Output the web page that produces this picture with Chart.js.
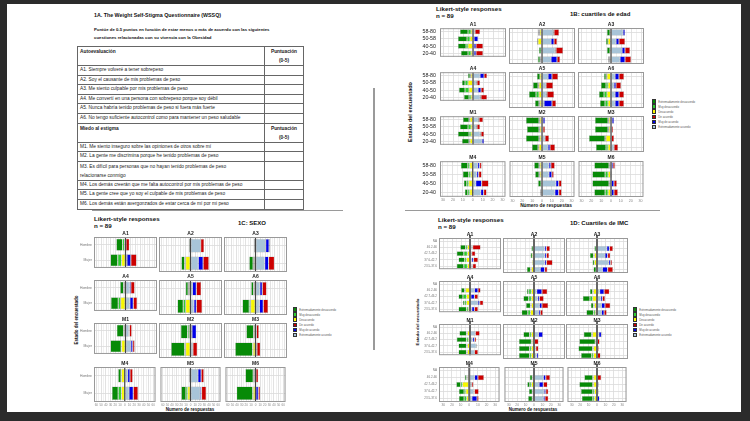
<!DOCTYPE html>
<html>
<head>
<meta charset="utf-8">
<script src="https://cdn.jsdelivr.net/npm/chart.js@4.4.1/dist/chart.umd.min.js"></script>
<style>
  body { margin: 0; width: 750px; height: 421px; overflow: hidden; position: relative;
         background: #2b2b2b; font-family: "Liberation Sans", Arial, sans-serif; }
  #sheet { position: absolute; left: 7px; top: 4px; width: 734px; height: 408px; background: #fff; }
  .t { position: absolute; white-space: nowrap; line-height: 1; color: #111; font-weight: bold; }
  .rot { transform: translate(-50%, -50%) rotate(-90deg); }
  .ctr { transform: translate(-50%, -50%); }
  .sep { position: absolute; background: #9a9a9a; }
  canvas { position: absolute; }
  table.wssq { position: absolute; left: 77px; top: 46px; width: 227px; border-collapse: collapse;
               font-size: 4.8px; color: #222; border: 1px solid #444; }
  table.wssq td { border: 0.8px solid #666; padding: 0 2px; vertical-align: top; white-space: nowrap;
                  line-height: 8.6px; height: 8.6px; }
  table.wssq td.h { line-height: 9px; height: 18px; }
  table.wssq td.p { width: 34px; text-align: center; }
  .lg { position: absolute; }
  .lg div { height: 5.1px; display: flex; align-items: center; font-size: 2.8px; color: #555; white-space: nowrap; }
  .lg i { display: inline-block; width: 4.3px; height: 4.6px; border: 0.5px solid #333; box-sizing: border-box; margin-right: 2px; }
</style>
</head>
<body>
<div id="sheet"></div>

<div class="t" style="left:94px;top:13px;font-size:5.3px">1A. The Weight Self-Stigma Questionnaire (WSSQ)</div>
<div class="t" style="left:94px;top:26px;font-size:4.3px;line-height:8px">Puntúe de 0-5 puntos en función de estar menos o más de acuerdo con las siguientes<br>cuestiones relacionadas con su vivencia con la Obesidad</div>

<table class="wssq">
  <tr><td class="h"><b>Autoevaluación</b><br>&nbsp;</td><td class="p h"><b>Puntuación</b><br><b>(0-5)</b></td></tr>
  <tr><td>A1. Siempre volveré a tener sobrepeso</td><td class="p"></td></tr>
  <tr><td>A2. Soy el causante de mis problemas de peso</td><td class="p"></td></tr>
  <tr><td>A3. Me siento culpable por mis problemas de peso</td><td class="p"></td></tr>
  <tr><td>A4. Me convertí en una persona con sobrepeso porque soy débil</td><td class="p"></td></tr>
  <tr><td>A5. Nunca habría tenido problemas de peso si fuera más fuerte</td><td class="p"></td></tr>
  <tr><td>A6. No tengo suficiente autocontrol como para mantener un peso saludable</td><td class="p"></td></tr>
  <tr><td class="h"><b>Miedo al estigma</b><br>&nbsp;</td><td class="p h"><b>Puntuación</b><br><b>(0-5)</b></td></tr>
  <tr><td>M1. Me siento inseguro sobre las opiniones de otros sobre mí</td><td class="p"></td></tr>
  <tr><td>M2. La gente me discrimina porque he tenido problemas de peso</td><td class="p"></td></tr>
  <tr><td class="h">M3. Es difícil para personas que no hayan tenido problemas de peso<br>relacionarse conmigo</td><td class="p h"></td></tr>
  <tr><td>M4. Los demás creerán que me falta autocontrol por mis problemas de peso</td><td class="p"></td></tr>
  <tr><td>M5. La gente cree que yo soy el culpable de mis problemas de peso</td><td class="p"></td></tr>
  <tr><td>M6. Los demás están avergonzados de estar cerca de mí por mi peso</td><td class="p"></td></tr>
</table>

<div class="sep" style="left:92px;top:210px;width:251px;height:1px"></div>
<div class="sep" style="left:405px;top:210px;width:255px;height:1px"></div>
<div class="sep" style="left:373px;top:88px;width:1.5px;height:262px"></div>

<!-- 1B -->
<div class="t" style="left:436px;top:5px;font-size:6.2px;line-height:7px">Likert-style responses<br>n = 89</div>
<div class="t" style="left:570px;top:10.5px;font-size:6px">1B: cuartiles de edad</div>
<div class="t rot" style="left:411px;top:112px;font-size:5.5px">Estado del encuestado</div>
<div class="t ctr" style="left:546px;top:206px;font-size:4.8px">Número de respuestas</div>

<!-- 1C -->
<div class="t" style="left:94px;top:215px;font-size:6.2px;line-height:7px">Likert-style responses<br>n = 89</div>
<div class="t" style="left:238px;top:220px;font-size:6px">1C: SEXO</div>
<div class="t rot" style="left:77px;top:320px;font-size:4.5px">Estado del encuestado</div>
<div class="t ctr" style="left:190px;top:410px;font-size:4.5px">Numero de respuestas</div>

<!-- 1D -->
<div class="t" style="left:438px;top:216px;font-size:6.2px;line-height:7px">Likert-style responses<br>n = 89</div>
<div class="t" style="left:570px;top:220px;font-size:6px">1D: Cuartiles de IMC</div>
<div class="t rot" style="left:418px;top:322px;font-size:4.3px">Estado del encuestado</div>
<div class="t ctr" style="left:533px;top:409.5px;font-size:4.5px">Numero de respuestas</div>

<script>
// Items (panels), in reading order
const items = ["A1", "A2", "A3", "A4", "A5", "A6", "M1", "M2", "M3", "M4", "M5", "M6"];

// Value order inside every row below
const rowCats   = ["Extremadamente desacuerdo", "Muy desacuerdo", "Desacuerdo",
                   "Extremadamente acuerdo", "Muy de acuerdo", "De acuerdo"];
const rowColors = ["#078a07", "#2fcc2f", "#f7f700", "#a8c4d8", "#0000ea", "#cc0000"];
// legend order (indexes into rowCats)
const legendOrder = [0, 1, 2, 5, 4, 3];

// ---- 1B: age quartiles ----
const edadGroups = ["58-80", "50-58", "40-50", "20-40"];
const edadA1 = [[8,3,2,2,0,5], [9,3,3,1,4,0], [8,2,5,1,2,7], [7,3,2,1,2,7]];
const edadA2 = [[1,1,2,11,1,5], [1,0,4,9,3,3], [2,0,1,13,1,7], [2,1,1,9,6,3]];
const edadA3 = [[3,0,1,12,2,0], [2,0,3,5,3,6], [3,1,0,11,3,5], [1,1,1,9,5,6]];
const edadA4 = [[2,1,2,7,4,3], [3,3,5,3,1,3], [6,4,4,5,3,3], [5,2,2,7,1,6]];
const edadA5 = [[3,0,2,6,4,6], [5,1,3,4,0,7], [7,3,3,4,1,7], [4,1,2,2,8,4]];
const edadA6 = [[2,1,4,4,4,5], [5,2,3,3,2,5], [5,3,4,4,4,5], [5,3,3,4,4,5]];
const edadM1 = [[6,1,3,5,1,4], [8,3,2,3,1,3], [11,2,2,7,1,3], [7,1,3,9,2,0]];
const edadM2 = [[13,1,2,1,2,0], [12,1,2,1,0,2], [13,1,2,3,0,4], [6,1,3,6,2,5]];
const edadM3 = [[13,1,2,1,2,0], [13,1,2,0,0,2], [16,1,5,0,0,3], [10,2,3,3,0,4]];
const edadM4 = [[7,2,3,5,2,2], [6,2,2,4,2,3], [3,2,4,3,6,7], [3,2,3,8,3,3]];
const edadM5 = [[5,1,2,7,2,4], [4,1,2,7,3,2], [3,1,0,14,3,3], [1,1,0,13,4,3]];
const edadM6 = [[15,1,1,0,2,2], [13,3,3,0,0,1], [17,1,1,0,3,3], [11,3,3,0,3,4]];

// ---- 1C: sex ----
const sexoGroups = ["Hombre", "Mujer"];
const sexoA1 = [[13,4,2,1,0,7], [15,8,8,3,8,12]];
const sexoA2 = [[3,0,0,21,0,7], [7,2,10,16,10,12]];
const sexoA3 = [[2,0,1,21,7,2], [8,2,3,19,8,12]];
const sexoA4 = [[7,1,3,8,3,8], [15,5,10,9,7,8]];
const sexoA5 = [[5,2,3,4,8,10], [12,5,10,7,5,12]];
const sexoA6 = [[5,1,3,9,5,9], [14,3,10,8,8,10]];
const sexoM1 = [[14,1,3,7,1,5], [22,1,8,11,4,4]];
const sexoM2 = [[14,3,3,3,9,0], [28,2,10,5,0,9]];
const sexoM3 = [[15,1,3,2,0,5], [36,1,5,3,0,7]];
const sexoM4 = [[6,1,7,6,5,6], [13,7,7,9,9,10]];
const sexoM5 = [[3,0,0,16,7,6], [10,4,6,21,3,10]];
const sexoM6 = [[17,2,3,0,1,5], [35,1,5,0,6,4]];

// ---- 1D: BMI quartiles (NA row has no answers) ----
const imcGroups = ["NA", "46.2-66", "42.7-46.2", "37.6-42.7", "23.5-37.6"];
const imcA1 = [[6,2,3,2,1,9], [8,4,3,1,1,4], [7,2,4,2,2,5], [8,4,3,2,1,4]];
const imcA2 = [[2,1,0,12,2,4], [2,0,2,12,2,3], [0,0,2,12,2,7], [4,1,3,7,5,3]];
const imcA3 = [[2,0,1,11,3,4], [4,1,3,9,3,3], [2,0,3,13,2,2], [3,0,1,6,6,6]];
const imcA4 = [[4,1,5,5,4,3], [5,4,4,1,4,4], [2,2,4,9,2,4], [9,2,2,2,3,4]];
const imcA5 = [[2,3,3,3,6,6], [6,3,3,4,2,5], [5,1,3,6,3,7], [7,3,4,5,2,3]];
const imcA6 = [[3,1,4,3,5,6], [8,3,5,4,2,3], [3,1,3,5,4,6], [8,2,2,5,3,3]];
const imcM1 = [[8,1,3,6,0,5], [11,2,2,3,2,2], [9,1,3,7,1,0], [9,1,3,5,0,4]];
const imcM2 = [[7,2,3,5,5,0], [14,1,2,0,0,5], [12,2,3,2,0,3], [12,2,3,3,2,0]];
const imcM3 = [[9,1,5,2,3,1], [18,1,1,0,0,3], [16,1,4,0,0,2], [12,2,4,0,0,4]];
const imcM4 = [[2,1,2,6,4,7], [5,2,8,2,1,2], [6,2,4,5,1,5], [6,3,3,3,6,2]];
const imcM5 = [[3,1,1,11,3,5], [3,2,3,6,5,5], [4,1,1,12,2,3], [5,1,1,11,2,4]];
const imcM6 = [[10,1,4,0,0,5], [16,1,4,0,2,0], [14,2,3,0,1,1], [13,2,3,0,3,0]];

const edadData = [edadA1, edadA2, edadA3, edadA4, edadA5, edadA6, edadM1, edadM2, edadM3, edadM4, edadM5, edadM6];
const sexoData = [sexoA1, sexoA2, sexoA3, sexoA4, sexoA5, sexoA6, sexoM1, sexoM2, sexoM3, sexoM4, sexoM5, sexoM6];
const imcData  = [imcA1, imcA2, imcA3, imcA4, imcA5, imcA6, imcM1, imcM2, imcM3, imcM4, imcM5, imcM6];

// stacking: [row index, side]; first of each side sits next to zero
const stackOrder = [[2, -1], [1, -1], [0, -1], [3, 1], [4, 1], [5, 1]];

// panel layout for each facet grid
const blocks = [
  { groups: edadGroups, data: edadData, padNA: false,
    cols: [440, 509, 578], rows: [28, 72, 116, 161], w: 66, h: 36, max: 33,
    padL: 24, padB: 7, yFont: 5.3, yColor: "#222", yPad: 4, xFont: 3.6, bar: 0.72,
    zeroW: 1.2, zeroC: "#444", zeroOver: 0, legend: [652, 99] },
  { groups: sexoGroups, data: sexoData, padNA: false,
    cols: [94, 159, 224], rows: [237, 280, 323, 367], w: 63, h: 35, max: 65,
    padL: 20, padB: 7, yFont: 3.4, yColor: "#777", yPad: 2, xFont: 3.0, bar: 0.77,
    zeroW: 1.2, zeroC: "#444", zeroOver: 0, legend: [293, 307] },
  { groups: imcGroups, data: imcData, padNA: true,
    cols: [439, 502.5, 566], rows: [238, 280.5, 323.5, 367], w: 62, h: 34.5, max: 35,
    padL: 20, padB: 7, yFont: 3.0, yColor: "#777", yPad: 2, xFont: 3.3, bar: 0.75,
    zeroW: 2, zeroC: "#666", zeroOver: 3, legend: [633, 307] }
];

const TITLE_H = 7;
Chart.defaults.font.family = '"Liberation Sans", Arial, sans-serif';
Chart.defaults.animation = false;

// frame, zero line and strip title of each small panel
const panelFrame = {
  id: "panelFrame",
  afterDatasetsDraw(chart, args, o) {
    const ctx = chart.ctx, a = chart.chartArea;
    const x0 = chart.scales.x.getPixelForValue(0);
    ctx.save();
    ctx.strokeStyle = o.zeroC;
    ctx.lineWidth = o.zeroW;
    ctx.beginPath();
    ctx.moveTo(x0, a.top - o.zeroOver);
    ctx.lineTo(x0, a.bottom);
    ctx.stroke();
    ctx.strokeStyle = "#999";
    ctx.lineWidth = 1;
    ctx.strokeRect(a.left + 0.5, a.top + 0.5, a.right - a.left - 1, a.bottom - a.top - 1);
    ctx.fillStyle = "#222";
    ctx.font = 'bold 5px "Liberation Sans", Arial, sans-serif';
    ctx.textAlign = "center";
    ctx.textBaseline = "bottom";
    ctx.fillText(o.name, (a.left + a.right) / 2, a.top - 1);
    ctx.restore();
  }
};

function drawPanel(b, k) {
  const ci = k % 3, ri = Math.floor(k / 3);
  const padL = ci === 0 ? b.padL : 0;
  const padB = ri === 3 ? b.padB : 0;
  const cv = document.createElement("canvas");
  cv.width = Math.round(b.w + padL);
  cv.height = Math.round(TITLE_H + b.h + padB);
  cv.style.left = (b.cols[ci] - padL) + "px";
  cv.style.top = (b.rows[ri] - TITLE_H) + "px";
  document.body.appendChild(cv);

  const rows = b.padNA ? [null].concat(b.data[k]) : b.data[k];
  const datasets = stackOrder.map(function(s) {
    return {
      label: rowCats[s[0]],
      data: rows.map(function(r) { return r && r[s[0]] ? s[1] * r[s[0]] : null; }),
      backgroundColor: rowColors[s[0]],
      borderColor: "rgba(40,40,40,0.35)",
      borderWidth: 0.5,
      borderSkipped: false,
      barPercentage: b.bar,
      categoryPercentage: 1
    };
  });

  new Chart(cv, {
    type: "bar",
    data: { labels: b.groups, datasets: datasets },
    plugins: [panelFrame],
    options: {
      indexAxis: "y",
      responsive: false,
      devicePixelRatio: 1,
      events: [],
      layout: { padding: { top: TITLE_H, left: 0, right: 0, bottom: 0 } },
      plugins: {
        legend: { display: false },
        tooltip: { enabled: false },
        panelFrame: { name: items[k], zeroW: b.zeroW, zeroC: b.zeroC, zeroOver: b.zeroOver }
      },
      scales: {
        x: {
          type: "linear", stacked: true, min: -b.max, max: b.max,
          afterFit: function(s) { s.height = padB; },
          ticks: {
            display: ri === 3, stepSize: 5, includeBounds: false, autoSkip: false, maxRotation: 0,
            padding: 1.5, font: { size: b.xFont }, color: "#888",
            callback: function(v) { return v % 10 === 0 ? Math.abs(v) : ""; }
          },
          grid: {
            drawTicks: false, lineWidth: 0.8,
            color: function(c) { return c.tick && c.tick.value % 10 === 0 ? "#dadada" : "#ededed"; }
          },
          border: { display: false }
        },
        y: {
          type: "category", stacked: true,
          afterFit: function(s) { s.width = padL; },
          ticks: { display: ci === 0, padding: b.yPad, font: { size: b.yFont }, color: b.yColor, autoSkip: false },
          grid: { drawTicks: false, offset: false, color: "#dadada", lineWidth: 0.8 },
          border: { display: false }
        }
      }
    }
  });
}

function drawLegend(b) {
  const lg = document.createElement("div");
  lg.className = "lg";
  lg.style.left = b.legend[0] + "px";
  lg.style.top = b.legend[1] + "px";
  legendOrder.forEach(function(i) {
    const row = document.createElement("div");
    const key = document.createElement("i");
    key.style.background = rowColors[i];
    row.appendChild(key);
    row.appendChild(document.createTextNode(rowCats[i]));
    lg.appendChild(row);
  });
  document.body.appendChild(lg);
}

blocks.forEach(function(b) {
  items.forEach(function(name, k) { drawPanel(b, k); });
  drawLegend(b);
});
</script>
</body>
</html>
